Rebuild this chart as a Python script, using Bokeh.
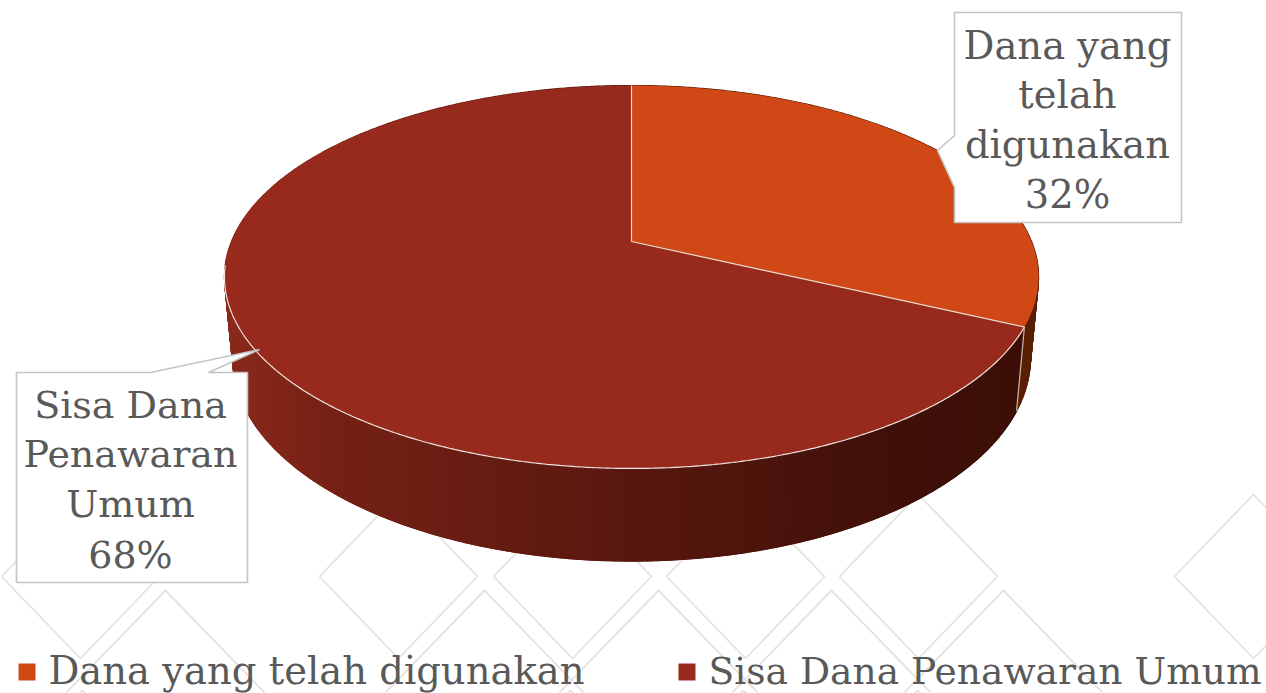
import numpy as np
from bokeh.plotting import figure
from bokeh.models import Range1d
from bokeh.core.properties import value
from bokeh.embed import file_html
from bokeh.resources import INLINE

categories = ["Dana yang telah digunakan", "Sisa Dana Penawaran Umum"]
shares = [32, 68]
face_colors = ["#d04815", "#982a1d"]
label_lines = [["Dana yang", "telah", "digunakan"], ["Sisa Dana", "Penawaran", "Umum"]]

FONT = "DejaVu Serif"
TEXT = "#595959"
CX, Y0, A, B, K = 631.0, 241.0, 400.0, 184.9, 0.1853
S, Q, Y0B = 0.98, 1.06, 320.0

def top(theta):
    u, v = np.sin(theta), -np.cos(theta)
    d = 1 - K * v
    return CX + A * u / d, Y0 + B * v / d

def bottom(theta):
    x, y = top(theta)
    return CX + S * (x - CX), Y0B + Q * (y - Y0)

def side_colour(x, stops_x, stops_rgb):
    r = [np.interp(x, stops_x, [c[i] for c in stops_rgb]) for i in range(3)]
    return "#%02x%02x%02x" % tuple(int(round(c)) for c in r)

p = figure(width=1266, height=693, x_range=Range1d(0, 1266), y_range=Range1d(693, 0),
           output_backend="svg", toolbar_location=None, min_border=0,
           background_fill_color="white", border_fill_color="white", outline_line_color=None)
p.axis.visible = False
p.grid.visible = False

# faint diamond lattice of the slide background
row1 = [80, 398, 572, 745, 918, 1253]
row2 = [165, 484, 658, 831, 1003]
row3 = [82, 570, 743, 917]
dx, dy = 79, 82
xs, ys = [], []
for c in row1:
    xs.append([c - dx, c, c + dx, c, c - dx]); ys.append([576, 576 - dy, 576, 576 + dy, 576])
for c in row2:
    xs.append([c - dx - 20, c, c + dx + 20]); ys.append([590 + dy + 20, 590, 590 + dy + 20])
for c in row3:
    xs.append([c - 12, c, c + 12]); ys.append([702, 690, 702])
p.multi_line(xs, ys, line_color="#e9e0e0", line_width=1.8)

# slice angles, clockwise from twelve o'clock
edges = np.cumsum([0] + shares) / sum(shares) * 2 * np.pi

stop_x = [232, 330, 640, 900, 1030]
stop_rgb = [(0x8a, 0x2a, 0x1c), (0x76, 0x22, 0x16), (0x58, 0x18, 0x0f), (0x40, 0x11, 0x0a), (0x3c, 0x0f, 0x09)]
stop_rgb_o = [(0x60, 0x22, 0x08), (0x60, 0x22, 0x08), (0x5e, 0x21, 0x07), (0x5c, 0x20, 0x06), (0x5a, 0x20, 0x06)]

# side wall: angular facets give the silhouette
fx, fy, fc = [], [], []
for i in [1, 0]:
    th = np.linspace(edges[i], edges[i + 1], 2 + int(shares[i] * 8))
    tx, ty = top(th)
    bx, by = bottom(th)
    for j in range(len(th) - 1):
        fx.append([tx[j], tx[j + 1], bx[j + 1], bx[j]])
        fy.append([ty[j], ty[j + 1], by[j + 1], by[j]])
        m = (tx[j] + tx[j + 1] + bx[j] + bx[j + 1]) / 4
        fc.append(side_colour(m, stop_x, stop_rgb_o if i == 0 else stop_rgb))
p.patches(fx, fy, fill_color=fc, line_color=fc, line_width=1.2)

# ...and vertical strips over them give the smooth left-to-right shading
sx1 = bottom(edges[1])[0]
front = np.linspace(np.pi * 0.52, np.pi * 1.48, 1500)
order = np.argsort(top(front)[0])
tfx, tfy = top(front)[0][order], top(front)[1][order]
order = np.argsort(bottom(front)[0])
bfx, bfy = bottom(front)[0][order], bottom(front)[1][order]
grid = np.arange(bfx.min() + 1, sx1, 2.0)
yt, yb = np.interp(grid, tfx, tfy), np.interp(grid, bfx, bfy)
sxs, sys, scs = [], [], []
for j in range(len(grid) - 1):
    sxs.append([grid[j], grid[j + 1], grid[j + 1], grid[j]])
    sys.append([yt[j], yt[j + 1], yb[j + 1], yb[j]])
    scs.append(side_colour((grid[j] + grid[j + 1]) / 2, stop_x, stop_rgb))
p.patches(sxs, sys, fill_color=scs, line_color=scs, line_width=0.8)

# wall seam between the two slices
sx0, sy0 = top(edges[1])
sx1, sy1 = bottom(edges[1])
p.line([sx0, sx1], [sy0, sy1], line_color="#c9b3a9", line_width=1.2)

# top faces
for i in range(len(shares)):
    th = np.linspace(edges[i], edges[i + 1], 2 + int(shares[i] * 8))
    tx, ty = top(th)
    p.patch(np.r_[CX, tx], np.r_[Y0, ty], fill_color=face_colors[i], line_color=None)
th = np.linspace(np.pi * 0.64, np.pi * 1.46, 400)
tx, ty = top(th)
p.line(tx, ty, line_color="#f1e4df", line_width=1.2)
for e in edges[:2]:
    ex, ey = top(e)
    p.line([CX, ex], [Y0, ey], line_color="#eadad2", line_width=1.2)

# callouts
BORDER = "#c4c4c4"
p.patch([954, 1181, 1181, 954, 954, 937, 954], [12, 12, 222, 222, 187, 150, 135],
        fill_color="white", line_color=BORDER, line_width=1.6)
p.patch([16, 150, 259, 208, 247, 247, 16], [372, 372, 349, 372, 372, 582, 582],
        fill_color="white", line_color=BORDER, line_width=1.6)

def label(cx, baselines, lines, size):
    p.text([cx] * len(lines), baselines, text=lines, text_font=value(FONT), text_font_size=size,
           text_color=TEXT, text_align="center", text_baseline="alphabetic")

label(1067, [45, 94, 144, 194], label_lines[0] + [f"{shares[0]}%"], "38.5px")
label(130, [404, 453, 503, 554], label_lines[1] + [f"{shares[1]}%"], "38px")

# legend
for x0, col, name, tx0, fs in zip([18, 678], face_colors, categories, [48, 708], ["38.5px", "37.6px"]):
    p.quad(left=[x0], right=[x0 + 17], top=[663], bottom=[680], fill_color=col, line_color=None)
    p.text([tx0], [670], text=[name], text_font=value(FONT), text_font_size=fs,
           text_color=TEXT, text_align="left", text_baseline="alphabetic")

open("out.html", "w").write(file_html(p, INLINE))
